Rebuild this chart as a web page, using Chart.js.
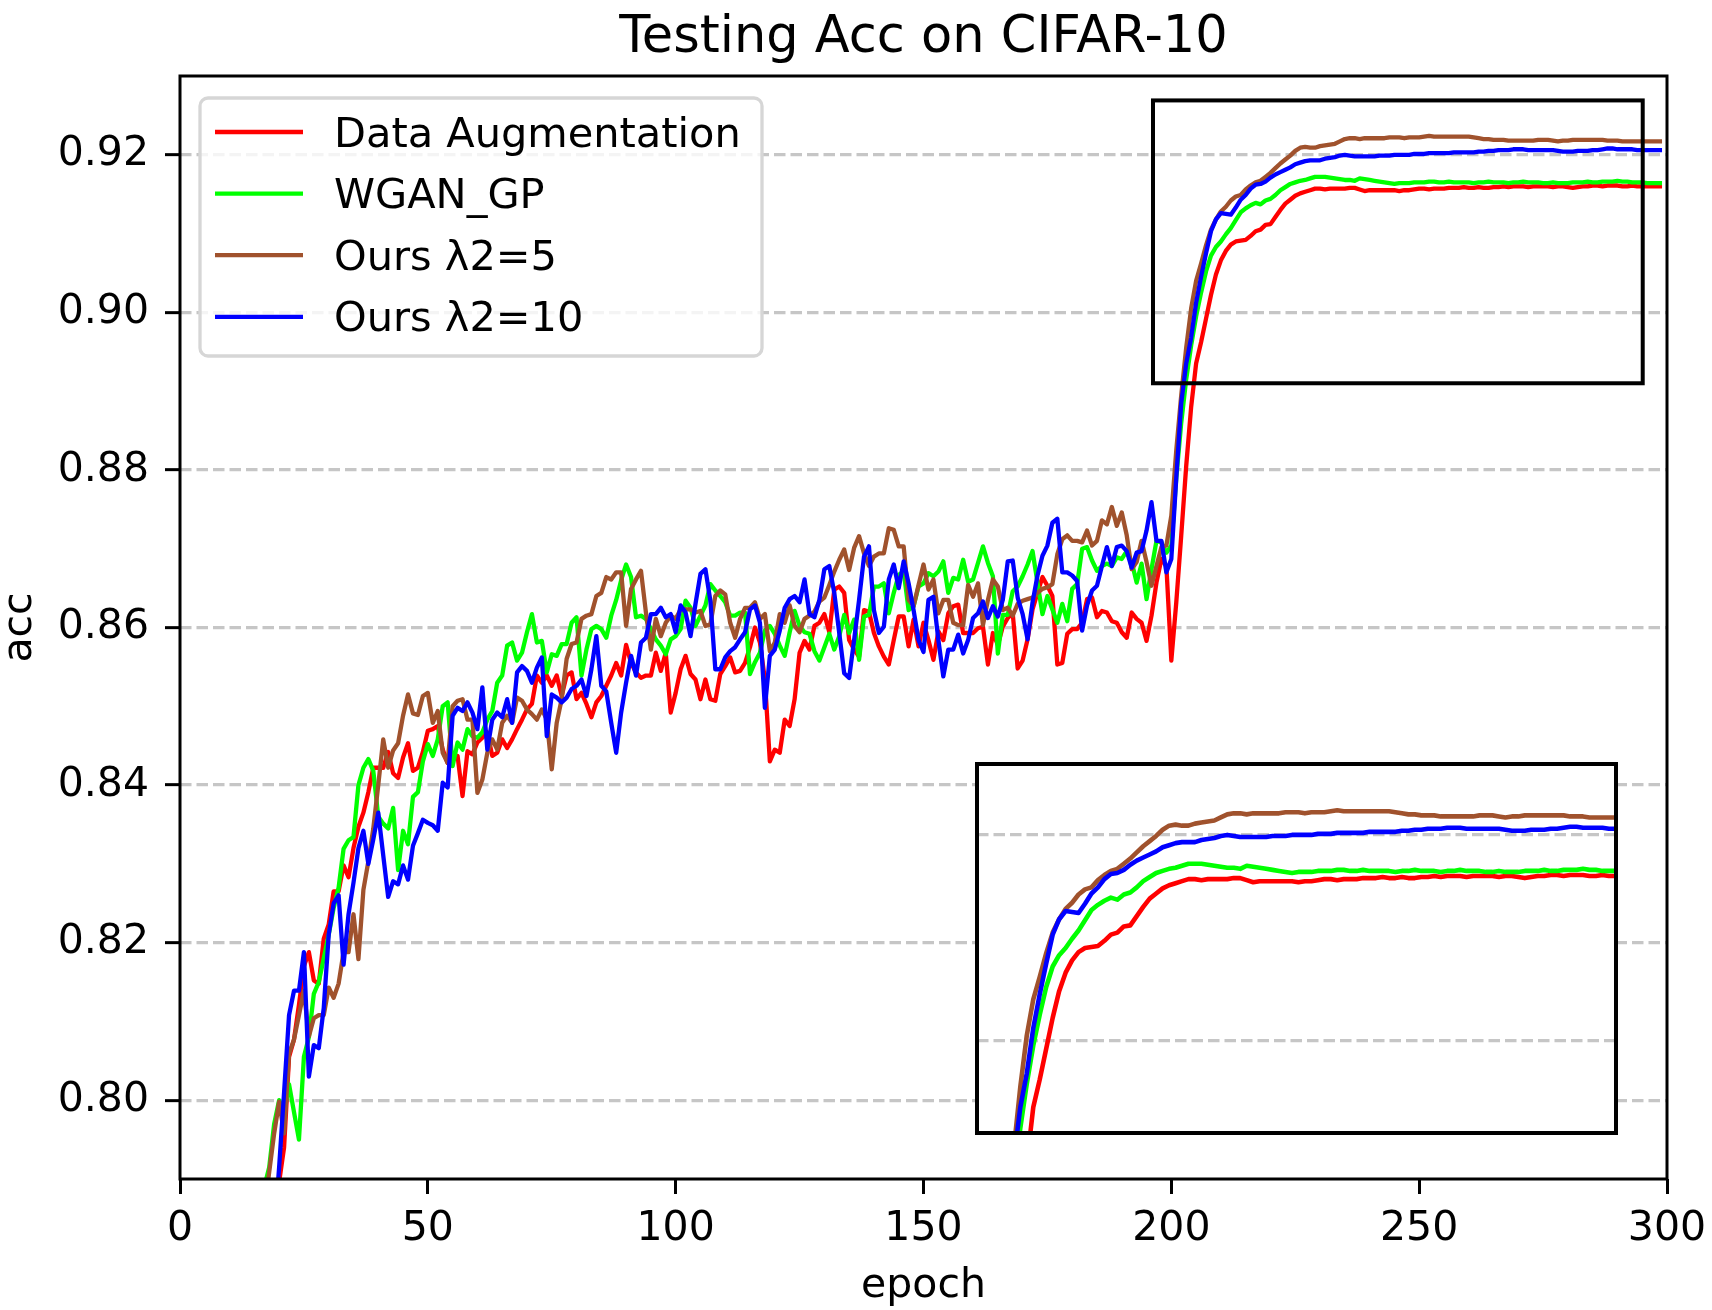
<!DOCTYPE html>
<html><head><meta charset="utf-8">
<script src="https://cdn.jsdelivr.net/npm/chart.js@4.4.1/dist/chart.umd.min.js"></script>
<style>
html,body{margin:0;padding:0;background:#fff;}
#wrap{position:relative;width:1712px;height:1310px;}
#main{position:absolute;left:0;top:0;}
#inset{position:absolute;left:975px;top:762px;}
</style></head><body>
<div id="wrap"><canvas id="main" width="1712" height="1310"></canvas><canvas id="inset" width="643" height="373"></canvas></div>
<script>
// ---------------- data ----------------
const seriesNames = ['Data Augmentation', 'WGAN_GP', 'Ours \u03bb2=5', 'Ours \u03bb2=10'];
const seriesColors = ['#ff0000', '#00ff00', '#a0522d', '#0000ff'];
const firstEpoch = 0;
const xTicks = [0, 50, 100, 150, 200, 250, 300];
const yTicks = [0.80, 0.82, 0.84, 0.86, 0.88, 0.90, 0.92];
const insetTicks = [0.90, 0.92];
const xRange = [0, 300];
const yRange = [0.79, 0.93];
const zoomX = [196.3, 295.1];
const zoomY = [0.891, 0.9269];

const dataAugmentation = [
0.43,0.55,0.61,0.65,0.68,0.70,0.715,0.728,0.738,0.746,
0.752,0.758,0.763,0.767,0.771,0.774,0.777,0.779,0.781,0.784,
0.7896,0.794,0.8055,0.8077,0.8121,0.817,0.8188,0.8152,0.8148,0.8205,
0.8223,0.8265,0.8265,0.8298,0.8283,0.832,0.8347,0.8365,0.8391,0.8422,
0.8422,0.8422,0.8442,0.8415,0.8409,0.8435,0.8453,0.8418,0.8422,0.8442,
0.8469,0.8471,0.8475,0.8445,0.8428,0.8435,0.8437,0.8386,0.8443,0.8439,
0.8454,0.846,0.8467,0.8437,0.8441,0.8458,0.8447,0.8458,0.8471,0.8483,
0.8496,0.8503,0.8539,0.853,0.8539,0.8526,0.8539,0.8513,0.8539,0.8543,
0.8509,0.8517,0.8503,0.8486,0.8505,0.8513,0.8526,0.8539,0.8555,0.8539,
0.8578,0.8555,0.8543,0.8536,0.8539,0.8539,0.8568,0.8545,0.8568,0.8492,
0.8517,0.8547,0.8564,0.8541,0.8534,0.8509,0.8534,0.8509,0.8507,0.8541,
0.8551,0.8562,0.8543,0.8545,0.8555,0.8575,0.86,0.8581,0.8534,0.843,
0.8445,0.8441,0.8483,0.8475,0.8509,0.8568,0.8583,0.8572,0.8602,0.8606,
0.8617,0.8594,0.8648,0.8652,0.8644,0.8584,0.8572,0.8563,0.8622,0.862,
0.8593,0.8576,0.8563,0.8553,0.8584,0.8614,0.8614,0.8576,0.861,0.8576,
0.8606,0.8584,0.8559,0.8595,0.8584,0.8618,0.8627,0.8629,0.8593,0.8593,
0.8593,0.8599,0.8601,0.8553,0.8593,0.8578,0.8601,0.8612,0.8618,0.8548,
0.8558,0.8585,0.8623,0.8644,0.8664,0.8653,0.864,0.8553,0.8555,0.8592,
0.8598,0.8598,0.8606,0.8636,0.8638,0.8613,0.8621,0.8619,0.8608,0.8606,
0.8594,0.8587,0.8619,0.8611,0.8606,0.8583,0.8615,0.8657,0.8687,0.8678,
0.8558,0.8632,0.8717,0.8805,0.888,0.8935,0.8962,0.8992,0.9022,0.9048,
0.9066,0.9078,0.9086,0.909,0.9091,0.9092,0.9097,0.9103,0.9105,0.9111,
0.9112,0.9121,0.913,0.9138,0.9143,0.9148,0.9151,0.9153,0.9155,0.9157,
0.9157,0.9156,0.9157,0.9157,0.9157,0.9157,0.9158,0.9158,0.9156,0.9154,
0.9155,0.9155,0.9155,0.9155,0.9155,0.9155,0.9154,0.9155,0.9155,0.9156,
0.9157,0.9157,0.9156,0.9157,0.9157,0.9157,0.9158,0.9158,0.9158,0.9159,
0.9158,0.9158,0.9159,0.9158,0.9158,0.9159,0.9159,0.916,0.9159,0.916,
0.916,0.916,0.9159,0.916,0.916,0.916,0.916,0.9159,0.916,0.916,
0.9159,0.9158,0.9159,0.916,0.916,0.9161,0.9161,0.916,0.9161,0.9161,
0.9161,0.916,0.916,0.9161,0.916,0.916,0.916,0.916,0.916,0.916
];

const wganGp = [
0.44,0.56,0.62,0.66,0.69,0.71,0.725,0.737,0.747,0.755,
0.761,0.767,0.772,0.776,0.779,0.782,0.785,0.789,0.7915,0.797,
0.800,0.7985,0.802,0.7985,0.795,0.8055,0.808,0.8135,0.815,0.818,
0.821,0.8244,0.827,0.8319,0.833,0.8334,0.84,0.8422,0.8433,0.8418,
0.836,0.8351,0.8345,0.8371,0.8292,0.8342,0.8325,0.8385,0.8391,0.843,
0.8452,0.8437,0.8458,0.85,0.8505,0.8424,0.8454,0.8445,0.8471,0.8462,
0.846,0.8467,0.8483,0.8494,0.853,0.8539,0.8577,0.8581,0.8558,0.8568,
0.8594,0.8617,0.8581,0.8583,0.8543,0.8566,0.8564,0.8579,0.8579,0.8606,
0.8613,0.8539,0.8572,0.8598,0.8602,0.8598,0.8587,0.8615,0.8635,0.866,
0.868,0.8664,0.8613,0.8615,0.8611,0.8598,0.8585,0.8577,0.8566,0.8585,
0.8589,0.8598,0.8634,0.8625,0.8602,0.8615,0.8628,0.8655,0.8647,0.864,
0.8632,0.8615,0.8615,0.8619,0.8619,0.8541,0.8556,0.8568,0.8596,0.8602,
0.8592,0.8577,0.8564,0.8594,0.8621,0.8602,0.8594,0.8592,0.857,0.8558,
0.8575,0.8592,0.8572,0.8589,0.8616,0.8593,0.861,0.8559,0.8614,0.8616,
0.8652,0.8652,0.8656,0.8618,0.8644,0.8667,0.8671,0.8622,0.8627,0.8652,
0.8656,0.8669,0.8665,0.8671,0.8684,0.8644,0.8663,0.8661,0.8686,0.8658,
0.8661,0.8682,0.8703,0.8682,0.8665,0.8567,0.8616,0.8616,0.8646,0.8652,
0.8665,0.868,0.8697,0.8657,0.8617,0.864,0.8623,0.8606,0.863,0.8608,
0.8649,0.8655,0.87,0.8702,0.8685,0.8672,0.8678,0.8681,0.8678,0.8689,
0.8687,0.8697,0.8683,0.8657,0.8681,0.8636,0.8674,0.871,0.8708,0.8695,
0.8704,0.879,0.886,0.8915,0.8958,0.8995,0.9025,0.9052,0.9072,0.9083,
0.909,0.9099,0.9107,0.9117,0.9127,0.9132,0.9136,0.9139,0.9137,0.9142,
0.9144,0.9149,0.9155,0.9159,0.9163,0.9165,0.9167,0.9168,0.917,0.9172,
0.9172,0.9172,0.9171,0.917,0.9169,0.9168,0.9168,0.9167,0.917,0.9169,
0.9168,0.9167,0.9166,0.9165,0.9164,0.9163,0.9164,0.9164,0.9164,0.9165,
0.9165,0.9165,0.9166,0.9166,0.9165,0.9165,0.9166,0.9165,0.9165,0.9165,
0.9165,0.9164,0.9165,0.9165,0.9166,0.9165,0.9165,0.9165,0.9164,0.9165,
0.9165,0.9166,0.9165,0.9165,0.9165,0.9164,0.9164,0.9165,0.9164,0.9164,
0.9164,0.9165,0.9165,0.9165,0.9166,0.9165,0.9165,0.9166,0.9166,0.9166,
0.9167,0.9166,0.9166,0.9165,0.9165,0.9165,0.9164,0.9164,0.9164,0.9164
];

const oursLambda5 = [
0.45,0.56,0.62,0.66,0.69,0.712,0.728,0.74,0.75,0.757,
0.763,0.768,0.772,0.776,0.779,0.781,0.783,0.786,0.7909,0.7958,
0.7998,0.7958,0.8059,0.8077,0.8108,0.8139,0.8081,0.8104,0.8108,0.8108,
0.8143,0.813,0.8148,0.8188,0.8188,0.8236,0.8179,0.8267,0.8303,0.8345,
0.84,0.8458,0.8422,0.8444,0.8453,0.8488,0.8515,0.8491,0.8489,0.8513,
0.8517,0.8479,0.8494,0.8441,0.8428,0.85,0.8507,0.8509,0.8483,0.8483,
0.839,0.8407,0.8441,0.8458,0.8445,0.8479,0.8488,0.8479,0.8511,0.8507,
0.8496,0.849,0.8483,0.8496,0.8483,0.842,0.8479,0.8509,0.856,0.8579,
0.8581,0.8611,0.8615,0.8617,0.864,0.8644,0.8664,0.8661,0.867,0.867,
0.8602,0.8649,0.8661,0.8672,0.8619,0.8572,0.8611,0.8589,0.8606,0.8615,
0.8611,0.8623,0.8623,0.8623,0.8619,0.8621,0.8602,0.8604,0.864,0.8647,
0.8642,0.8606,0.8587,0.8611,0.8625,0.8625,0.8632,0.8611,0.8617,0.857,
0.8581,0.8617,0.8606,0.8628,0.8602,0.8594,0.8611,0.8615,0.862,0.8633,
0.8638,0.8654,0.8671,0.8686,0.8699,0.8673,0.8701,0.8716,0.8694,0.8678,
0.869,0.8694,0.8694,0.8726,0.8724,0.8703,0.8703,0.8635,0.8627,0.8654,
0.868,0.8648,0.8661,0.8618,0.8635,0.8635,0.8606,0.8603,0.8603,0.8654,
0.8639,0.8656,0.8603,0.8635,0.8661,0.8652,0.8622,0.8625,0.8615,0.863,
0.8634,0.8636,0.8638,0.8644,0.8649,0.8651,0.8655,0.8693,0.8712,0.8717,
0.871,0.871,0.8708,0.8723,0.8704,0.871,0.8736,0.8731,0.8753,0.8729,
0.8746,0.8717,0.8674,0.8683,0.871,0.8683,0.8653,0.8678,0.8702,0.8704,
0.8742,0.8825,0.8895,0.8955,0.9005,0.904,0.9062,0.9085,0.9105,0.9118,
0.9128,0.9134,0.9142,0.9147,0.9149,0.9156,0.9161,0.9165,0.9167,0.9172,
0.9177,0.9183,0.9189,0.9194,0.9199,0.9205,0.9209,0.921,0.9209,0.9209,
0.9211,0.9212,0.9213,0.9214,0.9217,0.922,0.9221,0.9221,0.922,0.9221,
0.9221,0.9221,0.9221,0.9221,0.9222,0.9222,0.9222,0.9221,0.9222,0.9222,
0.9222,0.9223,0.9224,0.9223,0.9223,0.9223,0.9223,0.9223,0.9223,0.9223,
0.9223,0.9222,0.9221,0.922,0.922,0.9219,0.9219,0.9219,0.9218,0.9218,
0.9218,0.9218,0.9218,0.9218,0.9219,0.9219,0.9219,0.9218,0.9217,0.9218,
0.9218,0.9219,0.9219,0.9219,0.9219,0.9219,0.9219,0.9219,0.9218,0.9218,
0.9218,0.9217,0.9217,0.9217,0.9217,0.9217,0.9217,0.9217,0.9217,0.9217
];

const oursLambda10 = [
0.42,0.54,0.60,0.645,0.675,0.70,0.715,0.728,0.738,0.746,
0.752,0.758,0.763,0.767,0.771,0.774,0.777,0.779,0.781,0.783,
0.7915,0.801,0.8108,0.8139,0.8139,0.8188,0.803,0.807,0.8066,0.8117,
0.821,0.825,0.826,0.8172,0.8236,0.8276,0.832,0.8342,0.830,0.8331,
0.8365,0.8311,0.8258,0.8278,0.8274,0.8298,0.828,0.8323,0.8339,0.8356,
0.8352,0.8349,0.8342,0.8403,0.8397,0.8488,0.8498,0.8494,0.8505,0.8492,
0.8471,0.8524,0.8445,0.8483,0.8492,0.8486,0.8509,0.8479,0.8543,0.8551,
0.8545,0.853,0.8549,0.8562,0.8462,0.8515,0.8511,0.8505,0.8511,0.8522,
0.8526,0.8534,0.8513,0.8547,0.8589,0.8526,0.8519,0.8479,0.8441,0.8492,
0.853,0.8564,0.8539,0.8581,0.8587,0.8617,0.8617,0.8625,0.8613,0.8617,
0.8594,0.8628,0.8619,0.8589,0.863,0.8668,0.8674,0.8634,0.8547,0.8547,
0.8562,0.857,0.8575,0.8585,0.8594,0.8623,0.8628,0.8606,0.8498,0.8564,
0.8572,0.8596,0.8625,0.8636,0.864,0.8632,0.8661,0.8617,0.8613,0.8635,
0.8674,0.8678,0.8644,0.8593,0.8542,0.8536,0.8584,0.8635,0.869,0.8703,
0.8622,0.8593,0.8601,0.8661,0.868,0.865,0.8684,0.8656,0.8622,0.8584,
0.8569,0.8635,0.8639,0.8584,0.8538,0.8572,0.8572,0.8591,0.8567,0.8584,
0.8612,0.8618,0.8633,0.8612,0.8627,0.8614,0.8635,0.8684,0.8685,0.8638,
0.8617,0.8585,0.8632,0.8666,0.8691,0.8704,0.8733,0.8738,0.867,0.867,
0.8666,0.8659,0.8596,0.8628,0.8647,0.8653,0.8678,0.8702,0.8678,0.8702,
0.8704,0.8697,0.8676,0.8695,0.8697,0.8723,0.8759,0.871,0.871,0.867,
0.8687,0.879,0.8885,0.8935,0.8968,0.9012,0.9045,0.9075,0.9103,0.9118,
0.9126,0.9125,0.9124,0.9133,0.9143,0.9149,0.9157,0.9162,0.9163,0.9166,
0.9171,0.9175,0.9178,0.9181,0.9184,0.9188,0.919,0.9192,0.9193,0.9193,
0.9193,0.9195,0.9196,0.9197,0.9199,0.92,0.9199,0.9198,0.9198,0.9198,
0.9198,0.9198,0.9199,0.9199,0.9199,0.92,0.92,0.92,0.92,0.9201,
0.9201,0.9201,0.9202,0.9202,0.9202,0.9202,0.9202,0.9203,0.9203,0.9203,
0.9203,0.9203,0.9204,0.9204,0.9205,0.9205,0.9206,0.9206,0.9206,0.9207,
0.9207,0.9207,0.9206,0.9206,0.9206,0.9206,0.9206,0.9206,0.9205,0.9204,
0.9204,0.9204,0.9205,0.9205,0.9205,0.9206,0.9206,0.9207,0.9208,0.9208,
0.9207,0.9207,0.9207,0.9207,0.9206,0.9206,0.9206,0.9206,0.9206,0.9206
];

// ---------------- chart ----------------
const FONT = "'DejaVu Sans', 'Liberation Sans', sans-serif";
const allSeries = [dataAugmentation, wganGp, oursLambda5, oursLambda10];

function makeDatasets(lw) {
  return allSeries.map((arr, k) => ({
    label: seriesNames[k],
    data: arr.map((v, i) => ({x: firstEpoch + i, y: v})),
    borderColor: seriesColors[k],
    backgroundColor: seriesColors[k],
    borderWidth: lw,
    pointRadius: 0,
    pointHoverRadius: 0,
    fill: false,
    tension: 0,
    borderJoinStyle: 'round',
    borderCapStyle: 'butt',
    clip: 0,
    order: allSeries.length - k
  }));
}

const framePlugin = {
  id: 'frame',
  afterDatasetsDraw(chart) {
    const {ctx, chartArea: a} = chart;
    ctx.save();
    ctx.strokeStyle = '#000';
    ctx.lineWidth = 3;
    ctx.strokeRect(a.left, a.top, a.right - a.left, a.bottom - a.top);
    ctx.restore();
  }
};

const zoomBoxPlugin = {
  id: 'zoomBox',
  afterDatasetsDraw(chart) {
    const {ctx} = chart;
    const xs = chart.scales.x, ys = chart.scales.y;
    const l = xs.getPixelForValue(zoomX[0]), r = xs.getPixelForValue(zoomX[1]);
    const t = ys.getPixelForValue(zoomY[1]), b = ys.getPixelForValue(zoomY[0]);
    ctx.save();
    ctx.strokeStyle = '#000';
    ctx.lineWidth = 4;
    ctx.strokeRect(l, t, r - l, b - t);
    ctx.restore();
  }
};

const legendPlugin = {
  id: 'boxLegend',
  afterDraw(chart) {
    const {ctx, chartArea: a} = chart;
    const bx = a.left + 20, by = a.top + 22, bw = 562, bh = 258, rad = 8;
    ctx.save();
    ctx.beginPath();
    ctx.moveTo(bx + rad, by);
    ctx.lineTo(bx + bw - rad, by);
    ctx.arcTo(bx + bw, by, bx + bw, by + rad, rad);
    ctx.lineTo(bx + bw, by + bh - rad);
    ctx.arcTo(bx + bw, by + bh, bx + bw - rad, by + bh, rad);
    ctx.lineTo(bx + rad, by + bh);
    ctx.arcTo(bx, by + bh, bx, by + bh - rad, rad);
    ctx.lineTo(bx, by + rad);
    ctx.arcTo(bx, by, bx + rad, by, rad);
    ctx.closePath();
    ctx.fillStyle = 'rgba(255,255,255,0.8)';
    ctx.fill();
    ctx.strokeStyle = '#d6d6d6';
    ctx.lineWidth = 3.3;
    ctx.stroke();
    chart.data.datasets.forEach((ds, k) => {
      const yy = a.top + 56 + k * 61.6;
      ctx.beginPath();
      ctx.moveTo(a.left + 35, yy);
      ctx.lineTo(a.left + 123, yy);
      ctx.strokeStyle = ds.borderColor;
      ctx.lineWidth = 4.3;
      ctx.lineCap = 'butt';
      ctx.stroke();
      ctx.fillStyle = '#000';
      ctx.font = '41.5px ' + FONT;
      ctx.textAlign = 'left';
      ctx.textBaseline = 'alphabetic';
      ctx.fillText(ds.label, a.left + 154, yy + 14.5);
    });
    ctx.restore();
  }
};

new Chart(document.getElementById('main'), {
  type: 'line',
  data: {datasets: makeDatasets(4.3)},
  options: {
    responsive: false,
    animation: false,
    events: [],
    layout: {padding: {left: 0, right: 45, top: 0, bottom: 0}},
    plugins: {
      legend: {display: false},
      tooltip: {enabled: false},
      title: {
        display: true, text: 'Testing Acc on CIFAR-10', color: '#000', fullSize: false,
        font: {family: FONT, size: 51, weight: 'normal', lineHeight: 1.2},
        padding: {top: 8.5, bottom: 6.3}
      }
    },
    scales: {
      x: {
        type: 'linear', position: 'bottom', min: xRange[0], max: xRange[1],
        afterBuildTicks: s => { s.ticks = xTicks.map(v => ({value: v})); },
        afterFit: s => { s.height = 131; s.paddingLeft = 0; s.paddingRight = 0; },
        ticks: {color: '#000', font: {family: FONT, size: 41}, padding: 11, maxRotation: 0, autoSkip: false,
          callback: v => String(v)},
        grid: {drawOnChartArea: false, drawTicks: true, tickLength: 15, tickWidth: 3, tickColor: '#000', color: '#000', lineWidth: 3},
        border: {display: false},
        title: {display: true, text: 'epoch', color: '#000', font: {family: FONT, size: 41, lineHeight: 0.8}, padding: {top: 0, bottom: 7}}
      },
      y: {
        type: 'linear', position: 'left', min: yRange[0], max: yRange[1],
        afterBuildTicks: s => { s.ticks = yTicks.map(v => ({value: v})); },
        afterFit: s => { s.width = 180; s.paddingTop = 0; s.paddingBottom = 0; },
        ticks: {color: '#000', font: {family: FONT, size: 41}, padding: 16, callback: v => Number(v).toFixed(2)},
        grid: {drawOnChartArea: true, drawTicks: true, tickLength: 15, tickWidth: 3, tickColor: '#000', color: '#c6c6c6', lineWidth: 3.3},
        border: {display: false, dash: [11.5, 5]},
        title: {display: true, text: 'acc', color: '#000', font: {family: FONT, size: 41, lineHeight: 1.0}, padding: 0}
      }
    }
  },
  plugins: [framePlugin, zoomBoxPlugin, legendPlugin]
});

// ---------------- inset ----------------
const whiteBg = {
  id: 'whiteBg',
  beforeDraw(chart) {
    const {ctx, width, height} = chart;
    ctx.save();
    ctx.fillStyle = '#fff';
    ctx.fillRect(0, 0, width, height);
    ctx.restore();
  }
};
const insetFrame = {
  id: 'insetFrame',
  afterDatasetsDraw(chart) {
    const {ctx, chartArea: a} = chart;
    ctx.save();
    ctx.strokeStyle = '#000';
    ctx.lineWidth = 4;
    ctx.strokeRect(a.left, a.top, a.right - a.left, a.bottom - a.top);
    ctx.restore();
  }
};

new Chart(document.getElementById('inset'), {
  type: 'line',
  data: {datasets: makeDatasets(4.6)},
  options: {
    responsive: false,
    animation: false,
    events: [],
    layout: {padding: 2},
    plugins: {legend: {display: false}, tooltip: {enabled: false}, title: {display: false}},
    scales: {
      x: {type: 'linear', min: zoomX[0], max: zoomX[1], display: false},
      y: {
        type: 'linear', min: zoomY[0], max: zoomY[1], display: true,
        afterBuildTicks: s => { s.ticks = insetTicks.map(v => ({value: v})); },
        afterFit: s => { s.width = 0; },
        ticks: {display: false},
        grid: {color: '#c6c6c6', lineWidth: 3.3, drawTicks: false, drawOnChartArea: true},
        border: {display: false, dash: [11.5, 5]}
      }
    }
  },
  plugins: [whiteBg, insetFrame]
});
</script>
</body></html>
